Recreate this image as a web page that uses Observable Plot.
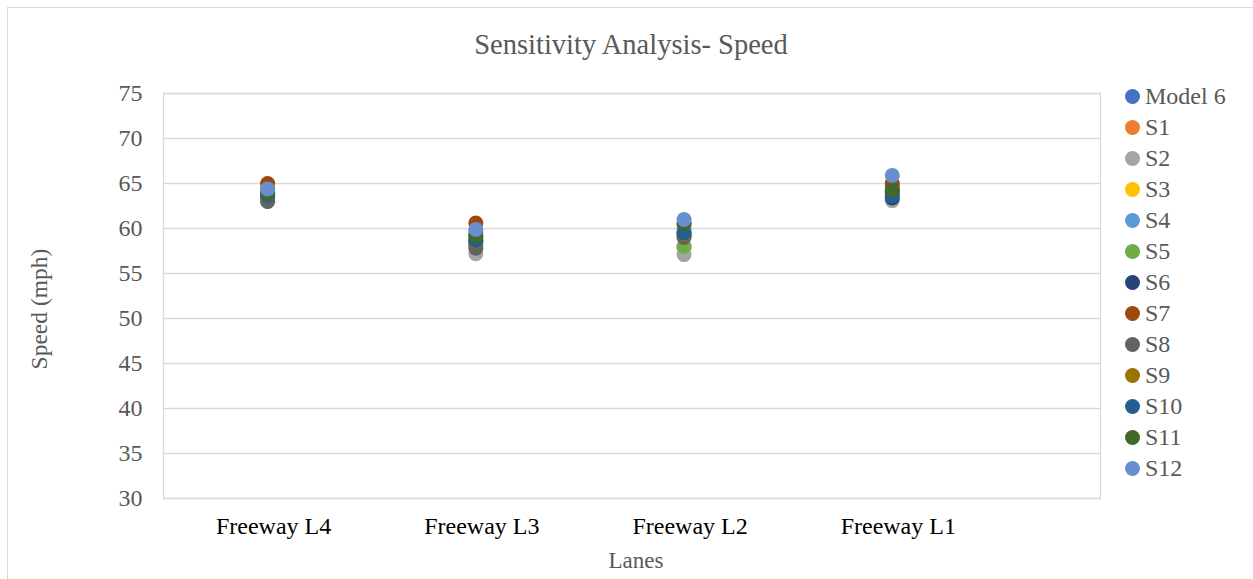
<!DOCTYPE html>
<html><head><meta charset="utf-8">
<script src="https://cdn.jsdelivr.net/npm/d3@7"></script>
<script src="https://cdn.jsdelivr.net/npm/@observablehq/plot@0.6"></script>
<style>
body{margin:0;background:#fff;font-family:"Liberation Serif","DejaVu Serif",serif;}
#wrap{position:relative;width:1253px;height:579px;overflow:hidden;}
#frame{position:absolute;left:7px;top:7px;width:1300px;height:640px;border:1px solid #d9d9d9;box-sizing:border-box;}
#title{position:absolute;left:0;width:1262px;top:28px;text-align:center;font-size:28.5px;line-height:34px;color:#595959;}
#legend{position:absolute;left:1125px;top:81px;font-size:24px;color:#595959;}
.li{height:31px;display:flex;align-items:center;}
.sw{width:15px;height:15px;border-radius:50%;margin-right:5px;}
#plot{position:absolute;left:0;top:0;}
#plot svg text{font-family:"Liberation Serif",serif !important;}
</style></head>
<body><div id="wrap"><div id="frame"></div><div id="plot"></div><div id="title">Sensitivity Analysis- Speed</div><div id="legend"></div></div>
<script>
const lanes = ["Freeway L4","Freeway L3","Freeway L2","Freeway L1"];
const seriesNames = ["Model 6","S1","S2","S3","S4","S5","S6","S7","S8","S9","S10","S11","S12"];
const colors = ["#4472C4","#ED7D31","#A5A5A5","#FFC000","#5B9BD5","#70AD47","#264478","#9E480E","#636363","#997300","#255E91","#43682B","#698ED0"];
const yTicks = [30,35,40,45,50,55,60,65,70,75];
// speeds per series, order = lanes
const model6 = [64.0, 59.0, 59.6, 64.0];
const s1  = [64.5, 58.0, 57.9, 64.8];
const s2  = [63.0, 57.2, 57.1, 63.1];
const s3  = [64.0, 59.2, 59.8, 64.0];
const s4  = [64.2, 59.6, 60.0, 64.6];
const s5  = [64.0, 58.8, 58.0, 64.2];
const s6  = [63.5, 58.4, 59.2, 63.4];
const s7  = [65.0, 60.6, 60.5, 65.0];
const s8  = [63.0, 57.8, 59.0, 64.2];
const s9  = [63.8, 58.6, 59.4, 63.9];
const s10 = [63.7, 58.7, 59.5, 63.6];
const s11 = [63.9, 59.2, 60.6, 64.3];
const s12 = [64.4, 59.9, 61.0, 65.9];
const allSeries = [model6,s1,s2,s3,s4,s5,s6,s7,s8,s9,s10,s11,s12];

const data = [];
allSeries.forEach((arr, si) => arr.forEach((v, li) => data.push({series: seriesNames[si], lane: li, speed: v})));

const ff = "Liberation Serif, serif";
const chart = Plot.plot({
  width: 1253, height: 579,
  marginLeft: 163, marginRight: 153, marginTop: 93, marginBottom: 81,
  style: {background: "transparent", fontFamily: ff},
  x: {domain: [-0.5, 4], axis: null},
  y: {domain: [30, 75], axis: null},
  color: {domain: seriesNames, range: colors},
  marks: [
    Plot.gridY(yTicks, {stroke: "#d9d9d9", strokeOpacity: 1, strokeWidth: 1.3}),
    Plot.frame({stroke: "#d9d9d9", strokeWidth: 1.3}),
    Plot.axisY(yTicks, {tickSize: 0, tickPadding: 21, fontSize: 24, fontFamily: ff, fill: "#595959", label: null}),
    Plot.axisX([0,1,2,3], {tickSize: 0, tickPadding: 18, dx: 6, fontSize: 24, fontFamily: ff, fill: "#000", tickFormat: i => lanes[i], label: null}),
    Plot.dot(data, {x: "lane", y: "speed", fill: "series", r: 7.5, stroke: null}),
    Plot.text(["Speed (mph)"], {frameAnchor: "left", textAnchor: "middle", dx: -124, dy: 13, rotate: -90, fontSize: 23.5, fontFamily: ff, fill: "#595959"}),
    Plot.text(["Lanes"], {frameAnchor: "bottom", dy: 69, dx: 4, fontSize: 23, fontFamily: ff, fill: "#595959"})
  ]
});
document.getElementById("plot").appendChild(chart);

const leg = document.getElementById("legend");
seriesNames.forEach((n, i) => {
  const d = document.createElement("div");
  d.className = "li";
  d.innerHTML = `<span class="sw" style="background:${colors[i]}"></span><span>${n}</span>`;
  leg.appendChild(d);
});
</script></body></html>
